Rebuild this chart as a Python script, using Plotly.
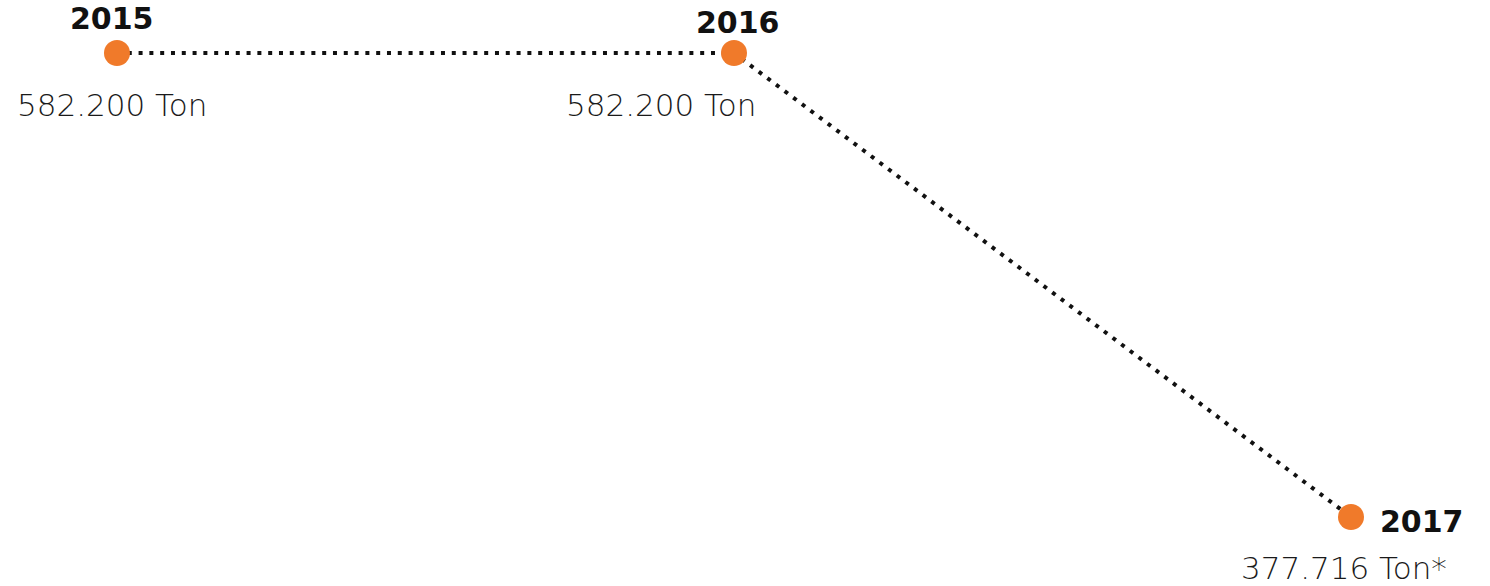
import plotly.graph_objects as go

# Yearly tonnage
years = [2015, 2016, 2017]
tonnage = [582.200, 582.200, 377.716]
year_labels = ["2015", "2016", "2017"]
value_labels = ["582.200 Ton", "582.200 Ton", "377.716 Ton*"]

ORANGE = "#F07A2A"

fig = go.Figure()
fig.add_trace(go.Scatter(
    x=years, y=tonnage, mode="lines+markers",
    line=dict(color="#111111", width=4, dash="4px,6.8px"),
    marker=dict(size=26, color=ORANGE, line=dict(width=0)),
    hoverinfo="skip", showlegend=False,
))

# label offsets (pixels) relative to each point
year_pos = [
    dict(xshift=-5, yshift=35, xanchor="center"),
    dict(xshift=4, yshift=31, xanchor="center"),
    dict(xshift=27, yshift=-4, xanchor="left"),
]
value_pos = [
    dict(xshift=-5, yshift=-52, xanchor="center"),
    dict(xshift=-73, yshift=-52, xanchor="center"),
    dict(xshift=-7, yshift=-51, xanchor="center"),
]

annotations = []
for x, y, lab, p in zip(years, tonnage, year_labels, year_pos):
    annotations.append(dict(
        x=x, y=y, xref="x", yref="y", text=lab, showarrow=False,
        yanchor="middle",
        font=dict(family="DejaVu Sans", size=30, color="#111111", weight=700),
        **p,
    ))
for x, y, lab, p in zip(years, tonnage, value_labels, value_pos):
    annotations.append(dict(
        x=x, y=y, xref="x", yref="y", text=lab, showarrow=False,
        yanchor="middle",
        font=dict(family="DejaVu Sans", size=31, color="#1a1a1a", weight=200),
        **p,
    ))

fig.update_layout(
    width=1490, height=586,
    margin=dict(l=0, r=0, t=0, b=0),
    paper_bgcolor="white", plot_bgcolor="white",
    xaxis=dict(range=[2014.8104, 2017.2253], visible=False, fixedrange=True),
    yaxis=dict(range=[347.31, 605.557], visible=False, fixedrange=True),
    annotations=annotations,
)

fig.write_html("out.html")
